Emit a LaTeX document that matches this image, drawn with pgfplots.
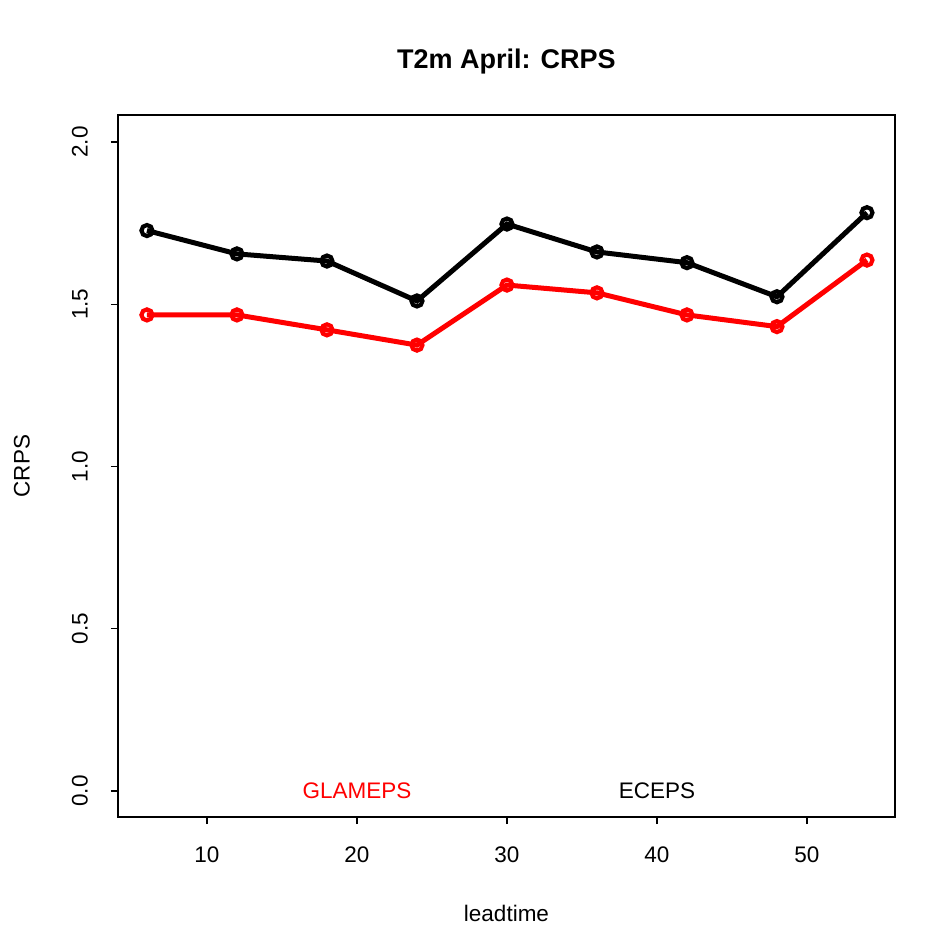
\documentclass[border=0pt]{standalone}
\usepackage{pgfplots}
\pgfplotsset{compat=1.18}
\usepackage{fontspec}
\setmainfont{Liberation Sans}
\begin{document}
\fontsize{11.25}{13.5}\selectfont
\begin{tikzpicture}
\begin{axis}[
  scale only axis,
  width=388.5pt, height=351pt,
  xmin=4.07, xmax=55.87,
  ymin=-0.08, ymax=2.083,
  axis line style={line width=0.7pt},
  xtick={10,20,30,40,50},
  ytick={0,0.5,1,1.5,2},
  yticklabels={0.0,0.5,1.0,1.5,2.0},
  tick align=outside,
  major tick length=3.5pt,
  tick style={line width=0.7pt,black},
  xtick pos=bottom, ytick pos=left,
  /pgf/number format/assume math mode=true,
  xticklabel style={anchor=center, yshift=-15.5pt},
  yticklabel style={rotate=90, anchor=center, yshift=15.5pt},
  clip=false,
  title={\bfseries\fontsize{13.5}{16}\selectfont T2m April: CRPS},
  title style={at={(0.5,1)}, anchor=center, yshift=20.5pt},
  xlabel={leadtime},
  xlabel style={at={(0.5,0)}, anchor=center, yshift=-48pt},
  ylabel={CRPS},
  ylabel style={at={(0,0.5)}, anchor=center, yshift=48pt},
]
\addplot[black, line width=2.5pt, mark=o, mark size=2.75pt, mark options={line width=2.1pt}] coordinates {
(6,1.727) (12,1.655) (18,1.633) (24,1.510) (30,1.747) (36,1.661) (42,1.628) (48,1.523) (54,1.782)};
\addplot[red, line width=2.5pt, mark=o, mark size=2.75pt, mark options={line width=2.1pt}] coordinates {
(6,1.467) (12,1.467) (18,1.421) (24,1.374) (30,1.559) (36,1.535) (42,1.467) (48,1.431) (54,1.636)};
\node[red, anchor=center] at (axis cs:20,0) {GLAMEPS};
\node[black, anchor=center] at (axis cs:40,0) {ECEPS};
\coordinate (bl) at (rel axis cs:0,0);
\coordinate (tr) at (rel axis cs:1,1);
\end{axis}
\pgfresetboundingbox
\path ([shift={(-59pt,-54.5pt)}]bl) rectangle ([shift={(23pt,57.5pt)}]tr);
\end{tikzpicture}
\end{document}
